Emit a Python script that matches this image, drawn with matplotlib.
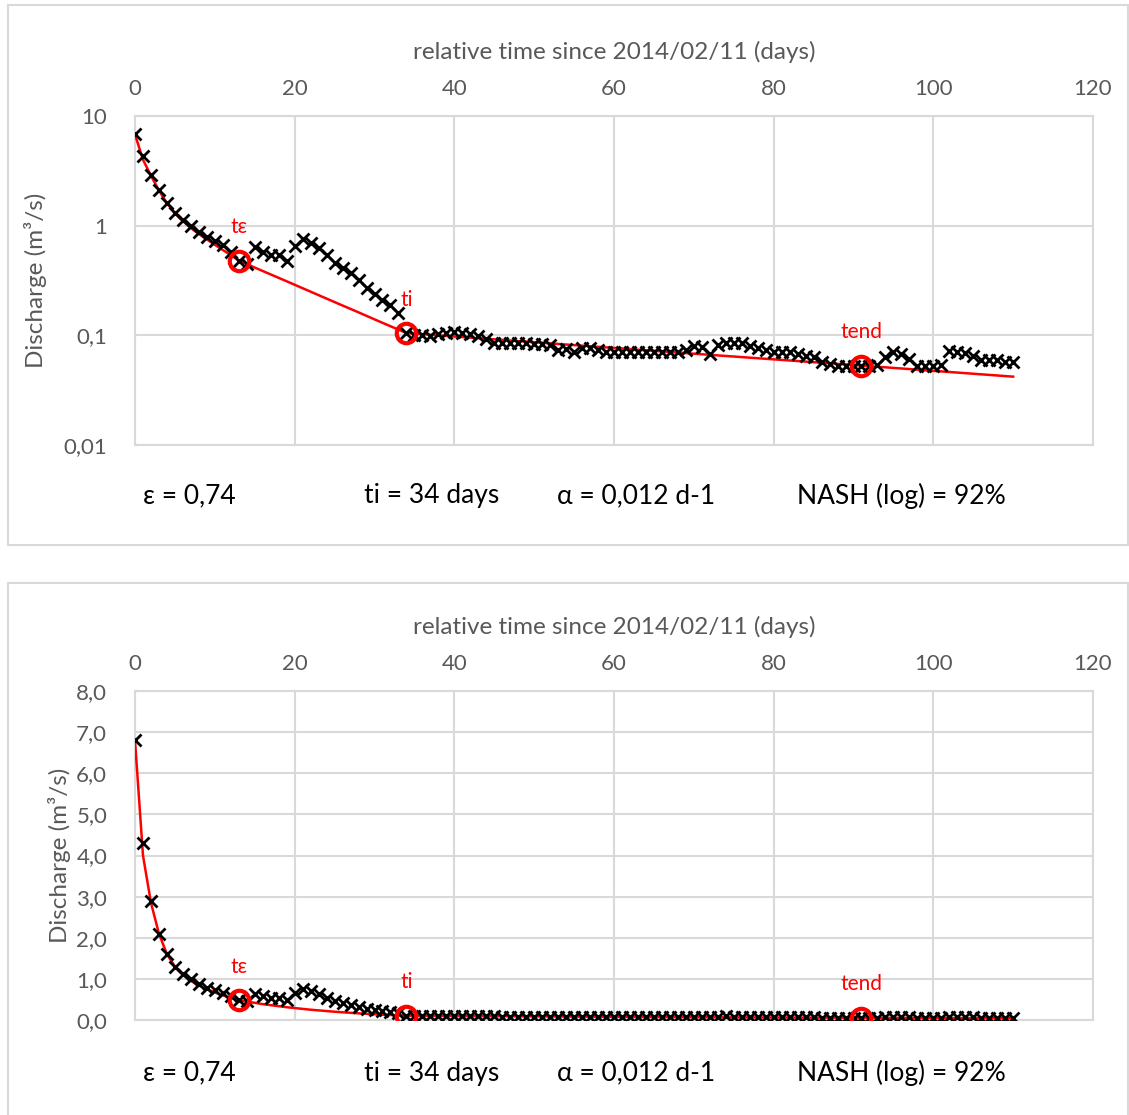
import numpy as np
import matplotlib
matplotlib.use("Agg")
import matplotlib.pyplot as plt
from matplotlib.patches import Rectangle
from matplotlib.ticker import FixedLocator, NullLocator

plt.rcParams['font.family'] = ['Lato', 'DejaVu Sans']

# daily discharge (m3/s), days 0..110
discharge = [6.8, 4.3, 2.9, 2.1, 1.6, 1.3, 1.13, 0.99, 0.88, 0.79,
             0.72, 0.66, 0.58, 0.48, 0.45, 0.64, 0.58, 0.54, 0.54, 0.48,
             0.65, 0.75, 0.70, 0.63, 0.54, 0.46, 0.41, 0.37, 0.32, 0.27,
             0.24, 0.21, 0.19, 0.16, 0.105, 0.101, 0.101, 0.099, 0.102, 0.104,
             0.107, 0.104, 0.102, 0.098, 0.093, 0.086, 0.085, 0.085, 0.085, 0.085,
             0.083, 0.083, 0.081, 0.073, 0.075, 0.070, 0.077, 0.077, 0.073, 0.071,
             0.070, 0.070, 0.070, 0.070, 0.070, 0.070, 0.070, 0.070, 0.071, 0.074,
             0.080, 0.078, 0.067, 0.081, 0.086, 0.085, 0.085, 0.080, 0.077, 0.074,
             0.071, 0.070, 0.070, 0.068, 0.065, 0.063, 0.057, 0.055, 0.053, 0.053,
             0.053, 0.053, 0.052, 0.054, 0.063, 0.070, 0.067, 0.061, 0.053, 0.053,
             0.053, 0.054, 0.072, 0.070, 0.069, 0.065, 0.059, 0.059, 0.059, 0.057,
             0.057]
days = list(range(len(discharge)))

# recession model curve (red line)
fit_days = [0, 1, 2, 3, 4, 5, 6, 7, 8, 9, 10, 11, 12, 13,
            16, 19, 22, 25, 28, 31, 34, 50, 70, 91, 110]
fit_q = [6.8, 4.0, 2.85, 2.1, 1.6, 1.3, 1.1, 0.95, 0.84, 0.75, 0.67, 0.6, 0.54, 0.48,
         0.386, 0.311, 0.25, 0.201, 0.162, 0.13, 0.105, 0.0865, 0.068, 0.053, 0.042]

# key points
key_names = ['tε', 'ti', 'tend']
key_days = [13, 34, 91]
key_q = [0.48, 0.105, 0.053]

x_ticks = [0, 20, 40, 60, 80, 100, 120]
log_ticks = [0.01, 0.1, 1, 10]
log_labels = ['0,01', '0,1', '1', '10']
lin_ticks = [0, 1, 2, 3, 4, 5, 6, 7, 8]
lin_labels = ['0,0', '1,0', '2,0', '3,0', '4,0', '5,0', '6,0', '7,0', '8,0']

notes = ['ε = 0,74', 'ti = 34 days', 'α = 0,012 d-1', 'NASH (log) = 92%']
note_x = [189, 432, 636, 901]

grey = '#D9D9D9'
txt = '#595959'
W, H = 1129, 1115

fig = plt.figure(figsize=(W / 100, H / 100), dpi=100)

# panel frames
fig.add_artist(Rectangle((8 / W, 1 - 545 / H), 1120 / W, 540 / H, transform=fig.transFigure,
                         fill=False, edgecolor=grey, lw=1.5))
fig.add_artist(Rectangle((8 / W, -0.01), 1120 / W, 1 - 583 / H + 0.01, transform=fig.transFigure,
                         fill=False, edgecolor=grey, lw=1.5))

ax1 = fig.add_axes([135 / W, 1 - 445 / H, (1093 - 135) / W, (445 - 116) / H])
ax2 = fig.add_axes([135 / W, 1 - 1020 / H, (1093 - 135) / W, (1020 - 691) / H])


def setup(ax, ylabpad):
    ax.plot(fit_days, fit_q, color='red', lw=1.8, zorder=3)
    ax.plot(days, discharge, ls='none', marker='x', color='black', ms=8, mew=2, zorder=4)
    ax.plot(key_days, key_q, ls='none', marker='o', mfc='none', mec='red', ms=14, mew=3, zorder=5)
    for name, d, q in zip(key_names, key_days, key_q):
        ax.annotate(name, (d, q), xytext=(0, 24), textcoords='offset points',
                    ha='center', va='center', color='red', fontsize=15)
    ax.set_xlim(0, 120)
    ax.xaxis.tick_top()
    ax.xaxis.set_label_position('top')
    ax.set_xticks(x_ticks)
    ax.set_xticklabels([str(t) for t in x_ticks])
    ax.set_xlabel('relative time since 2014/02/11 (days)', fontsize=17.5, color=txt, labelpad=15)
    ax.set_ylabel('Discharge (m³/s)', fontsize=17.5, color=txt, labelpad=ylabpad)
    ax.tick_params(axis='both', length=0, labelsize=16, labelcolor=txt)
    ax.tick_params(axis='x', pad=12)
    ax.tick_params(axis='y', pad=20)
    ax.grid(True, color=grey, lw=1.5)
    ax.set_axisbelow(True)
    for s in ax.spines.values():
        s.set_color(grey)
        s.set_linewidth(1.5)


setup(ax1, 12)
ax1.set_yscale('log')
ax1.set_ylim(0.01, 10)
ax1.yaxis.set_major_locator(FixedLocator(log_ticks))
ax1.yaxis.set_minor_locator(NullLocator())
ax1.set_yticklabels(log_labels)

setup(ax2, 4)
ax2.set_ylim(0, 8)
ax2.set_yticks(lin_ticks)
ax2.set_yticklabels(lin_labels)

for yy in [496, 1073]:
    for t, xx in zip(notes, note_x):
        fig.text(xx / W, 1 - yy / H, t, ha='center', va='center', fontsize=19, color='black')

fig.savefig('out.png', dpi=100)
